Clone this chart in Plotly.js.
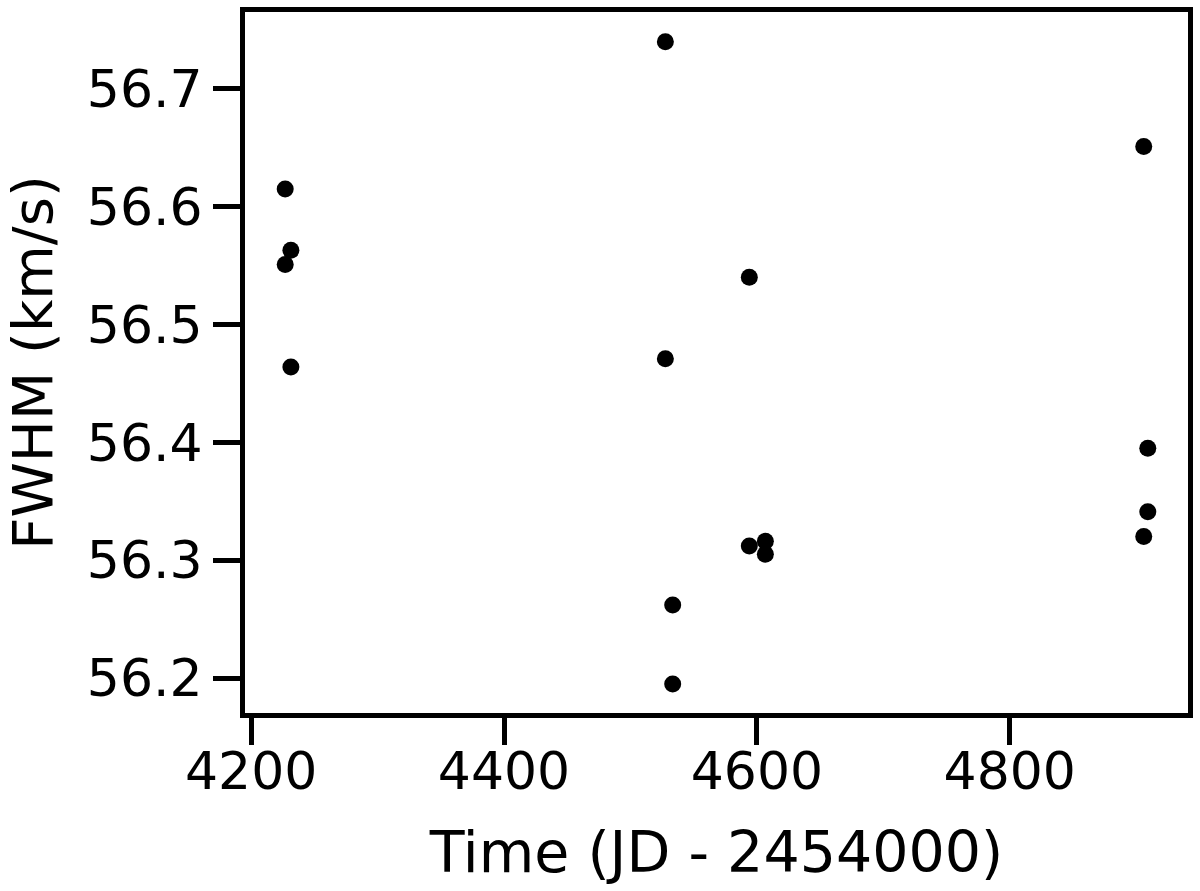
<!DOCTYPE html>
<html>
<head>
<meta charset="utf-8">
<script src="https://cdn.plot.ly/plotly-3.0.1.min.js"></script>
<style>
  html, body { margin: 0; padding: 0; background: #fff; }
  #chart { width: 1200px; height: 891px; }
</style>
</head>
<body>
<div id="chart"></div>
<script>
// Time (JD - 2454000)
const timeJD = [4226.9, 4231.4, 4226.9, 4231.4, 4527.6, 4527.6, 4533.4, 4533.4,
                4594.0, 4606.7, 4606.7, 4594.0, 4906.0, 4909.2, 4909.2, 4906.0];
// FWHM (km/s)
const fwhm = [56.615, 56.563, 56.551, 56.464, 56.740, 56.471, 56.262, 56.195,
              56.312, 56.316, 56.305, 56.540, 56.651, 56.395, 56.341, 56.320];

const xTicks = [4200, 4400, 4600, 4800];
const yTicks = [56.2, 56.3, 56.4, 56.5, 56.6, 56.7];

const font = 'DejaVu Sans, sans-serif';

const trace = {
  type: 'scatter',
  mode: 'markers',
  x: timeJD,
  y: fwhm,
  marker: { color: '#000', size: 17, line: { width: 0 } },
  hoverinfo: 'x+y'
};

const axisCommon = {
  showline: true, linecolor: '#000', linewidth: 5, mirror: true,
  showgrid: false, zeroline: false,
  ticks: 'outside', ticklen: 27, tickwidth: 5, tickcolor: '#000',
  tickfont: { family: font, size: 52, color: '#000' }
};

const layout = {
  width: 1200, height: 891,
  margin: { l: 245, r: 12, t: 12, b: 178, pad: 0 },
  paper_bgcolor: '#fff', plot_bgcolor: '#fff',
  showlegend: false,
  xaxis: Object.assign({}, axisCommon, {
    range: [4195.1, 4941.0],
    tickvals: xTicks, ticktext: xTicks.map(String),
    ticklabelstandoff: -18,
    title: { text: 'Time (JD - 2454000)', font: { family: font, size: 57, color: '#000' }, standoff: 33 }
  }),
  yaxis: Object.assign({}, axisCommon, {
    range: [56.1703, 56.7652],
    tickvals: yTicks, ticktext: yTicks.map(v => v.toFixed(1)),
    title: { text: 'FWHM (km/s)', font: { family: font, size: 56, color: '#000' }, standoff: 23 }
  })
};

Plotly.newPlot('chart', [trace], layout, { staticPlot: true, displayModeBar: false });
</script>
</body>
</html>
